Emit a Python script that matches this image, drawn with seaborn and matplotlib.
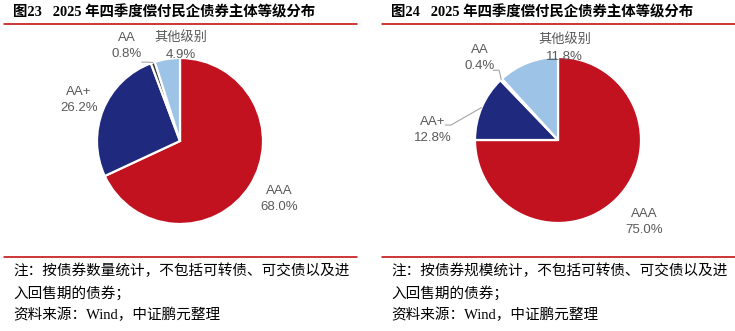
import numpy as np
import matplotlib
matplotlib.use("Agg")
import matplotlib.pyplot as plt
from matplotlib.lines import Line2D
import seaborn as sns

# ---- data ----
grades = ["AAA", "AA+", "AA", "其他级别"]
share_by_count = [68.0, 26.2, 0.8, 4.9]     # 按债券数量
share_by_scale = [75.0, 12.8, 0.4, 11.8]    # 按债券规模

titles = ["图23   2025 年四季度偿付民企债券主体等级分布",
          "图24   2025 年四季度偿付民企债券主体等级分布"]
notes = [["注：按债券数量统计，不包括可转债、可交债以及进", "入回售期的债券；", "资料来源：Wind，中证鹏元整理"],
         ["注：按债券规模统计，不包括可转债、可交债以及进", "入回售期的债券；", "资料来源：Wind，中证鹏元整理"]]

sns.set_theme(style="white")
plt.rcParams["font.family"] = ["Liberation Sans", "Noto Sans CJK SC", "DejaVu Sans"]

palette = sns.color_palette(["#C2111F", "#1F2A7E", "#3F3F3F", "#9DC3E6"])

W, H = 735, 331
fig = plt.figure(figsize=(W / 100, H / 100), dpi=100)
fig.patch.set_facecolor("white")

RED = "#C00000"
LBL = "#595959"

# panel geometry in pixels: (panel left, panel right, pie centre x, pie centre y, radius, text left)
panels = [(4, 357, 180, 141, 83, 13), (382, 735, 558, 140, 83, 391)]

# label centres in pie-radius units
label_pos = [
    {"AAA": (1.20, -0.70), "AA+": (-1.22, 0.49), "AA": (-0.64, 1.14), "其他级别": (0.01, 1.14)},
    {"AAA": (1.04, -0.99), "AA+": (-1.51, 0.12), "AA": (-0.94, 0.99), "其他级别": (0.08, 1.10)},
]
# leader lines: label-side anchor and elbow, in pie-radius units
leaders = [
    {"AA": [(-0.46, 0.95), (-0.37, 0.95)]},
    {"AA": [(-0.78, 0.84), (-0.71, 0.84)], "AA+": [(-1.36, 0.18), (-1.29, 0.18)]},
]

for i, values in enumerate([share_by_count, share_by_scale]):
    x0, x1, cx, cy, r, tx = panels[i]

    # title and red rules
    fig.text(tx / W, 1 - 12 / H, titles[i], ha="left", va="center", fontsize=10.4,
             fontweight="bold", color="black",
             family=["Liberation Serif", "Noto Sans CJK SC"])
    fig.add_artist(Line2D([x0 / W, x1 / W], [1 - 24 / H, 1 - 24 / H], color=RED, lw=1.1,
                          transform=fig.transFigure))
    fig.add_artist(Line2D([x0 / W, x1 / W], [1 - 257 / H, 1 - 257 / H], color=RED, lw=1.1,
                          transform=fig.transFigure))
    for k, (line, y) in enumerate(zip(notes[i], [271, 293, 315])):
        fig.text(tx / W, 1 - y / H, line, ha="left", va="center", fontsize=10.5,
                 color="black", family=["Liberation Serif", "Noto Sans CJK SC"])

    ax = fig.add_axes([(cx - r) / W, (H - cy - r) / H, 2 * r / W, 2 * r / H])
    wedges, _ = ax.pie(values, colors=palette, startangle=90, counterclock=False,
                       radius=1, wedgeprops=dict(edgecolor="white", linewidth=1.6))
    ax.set_xlim(-1, 1)
    ax.set_ylim(-1, 1)
    ax.set_aspect("equal")
    ax.axis("off")

    for g, v, w in zip(grades, values, wedges):
        lx, ly = label_pos[i][g]
        ax.text(lx, ly, f"{g}\n{v:.1f}%", ha="center", va="center", fontsize=9.5,
                color=LBL, linespacing=1.45, clip_on=False)
        if g in leaders[i]:
            mid = np.deg2rad((w.theta1 + w.theta2) / 2)
            ex, ey = np.cos(mid), np.sin(mid)
            (ax_, ay_), (bx, by) = leaders[i][g]
            ax.plot([ax_, bx, ex], [ay_, by, ey], color="#A6A6A6", lw=0.8,
                    clip_on=False, zorder=5)

fig.savefig("out.png", dpi=100, facecolor="white")
